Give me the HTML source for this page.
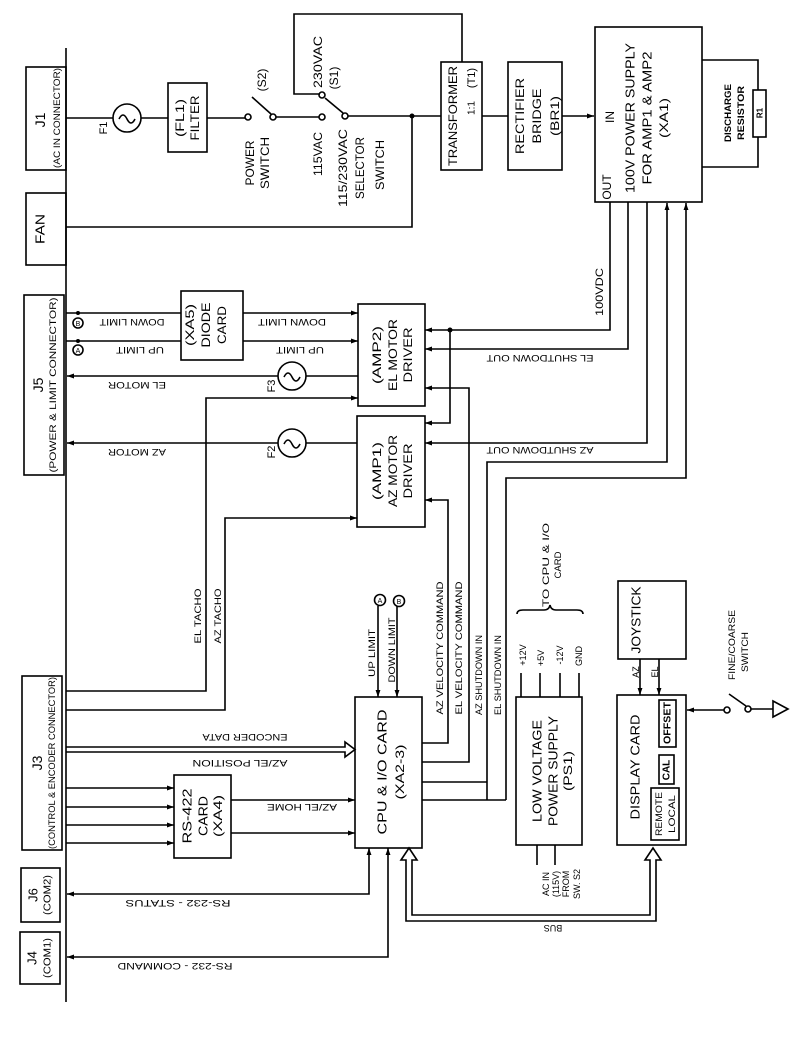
<!DOCTYPE html>
<html><head><meta charset="utf-8"><style>
html,body{margin:0;padding:0;background:#fff}
svg{display:block}
text{font-family:"Liberation Sans",sans-serif;fill:#000}
</style></head><body>
<svg width="799" height="1054" viewBox="0 0 799 1054" xmlns="http://www.w3.org/2000/svg">
<defs>
<marker id="a" viewBox="0 0 10 10" refX="10" refY="5" markerWidth="7" markerHeight="7" orient="auto-start-reverse" markerUnits="userSpaceOnUse"><path d="M0,1.5 L10,5 L0,8.5z" fill="#000"/></marker>
</defs>
<g stroke="#000" stroke-width="1.6" fill="none">
<!-- main bus -->
<line x1="66" y1="48" x2="66" y2="1002"/>
<!-- connector boxes -->
<rect x="26" y="67" width="40" height="103"/>
<rect x="26" y="193" width="40" height="72"/>
<rect x="24" y="295" width="40" height="180"/>
<rect x="22" y="676" width="40" height="174"/>
<rect x="21" y="868" width="39" height="54"/>
<rect x="20" y="932" width="40" height="52"/>
<!-- AC line -->
<line x1="66" y1="118" x2="113" y2="118"/>
<circle cx="127" cy="118" r="14"/>
<path d="M119,119 q4,-8 8,0 q4,8 8,0"/>
<line x1="141" y1="118" x2="168" y2="118"/>
<rect x="168" y="83" width="39" height="69"/>
<line x1="207" y1="118" x2="245" y2="118"/>
<circle cx="248" cy="117" r="3"/>
<circle cx="273" cy="117" r="3"/>
<line x1="271" y1="114" x2="252" y2="97"/>
<line x1="276" y1="117" x2="319" y2="117"/>
<circle cx="322" cy="117" r="3"/>
<circle cx="322" cy="95" r="3"/>
<circle cx="345" cy="116" r="3"/>
<line x1="343" y1="113" x2="325" y2="98"/>
<polyline points="320,94 294,94 294,14 462,14 462,62"/>
<line x1="348" y1="116" x2="441" y2="116"/>
<polyline points="412,116 412,227 66,227"/>
<rect x="441" y="62" width="41" height="108"/>
<line x1="482" y1="116" x2="508" y2="116"/>
<rect x="508" y="62" width="54" height="108"/>
<line x1="562" y1="116" x2="594" y2="116" marker-end="url(#a)"/>
<rect x="595" y="27" width="107" height="175"/>
<polyline points="702,60 758,60 758,90"/>
<rect x="753" y="90" width="13" height="47"/>
<polyline points="758,137 758,167 702,167"/>
<!-- PS outputs -->
<polyline points="610,202 610,330 425,330" marker-end="url(#a)"/>
<polyline points="450,330 450,423 425,423" marker-end="url(#a)"/>
<polyline points="628,202 628,349 425,349" marker-end="url(#a)"/>
<polyline points="647,202 647,443 425,443" marker-end="url(#a)"/>
<polyline points="487,800 487,462 667,462 667,203" marker-end="url(#a)"/>
<polyline points="506,800 506,478 686,478 686,203" marker-end="url(#a)"/>
<!-- amps -->
<rect x="358" y="304" width="67" height="102"/>
<rect x="357" y="416" width="68" height="111"/>
<!-- diode card -->
<rect x="181" y="291" width="62" height="69"/>
<line x1="66" y1="313" x2="181" y2="313"/>
<line x1="66" y1="341" x2="181" y2="341"/>
<line x1="243" y1="313" x2="358" y2="313" marker-end="url(#a)"/>
<line x1="243" y1="341" x2="358" y2="341" marker-end="url(#a)"/>
<circle cx="78" cy="323" r="5"/>
<circle cx="78" cy="350" r="5"/>
<!-- motors -->
<line x1="278" y1="376" x2="67" y2="376" marker-end="url(#a)"/>
<circle cx="292" cy="376" r="14"/>
<path d="M284,377 q4,-8 8,0 q4,8 8,0"/>
<line x1="306" y1="376" x2="358" y2="376"/>
<line x1="278" y1="443" x2="67" y2="443" marker-end="url(#a)"/>
<circle cx="292" cy="443" r="14"/>
<path d="M284,444 q4,-8 8,0 q4,8 8,0"/>
<line x1="306" y1="443" x2="357" y2="443"/>
<polyline points="66,691 206,691 206,398 358,398" marker-end="url(#a)"/>
<polyline points="66,710 225,710 225,518 357,518" marker-end="url(#a)"/>
<!-- CPU -->
<rect x="355" y="697" width="67" height="151"/>
<polyline points="422,743 448,743 448,500 425,500" marker-end="url(#a)"/>
<polyline points="422,762 469,762 469,388 425,388" marker-end="url(#a)"/>
<line x1="422" y1="782" x2="487" y2="782"/>
<line x1="422" y1="800" x2="506" y2="800"/>
<line x1="378" y1="606" x2="378" y2="697" marker-end="url(#a)"/>
<line x1="397" y1="606" x2="397" y2="697" marker-end="url(#a)"/>
<circle cx="380" cy="600" r="5.5"/>
<circle cx="399" cy="601" r="5.5"/>
<!-- encoder double arrow -->
<path d="M66,747 L345,747 L345,742 L355,749.5 L345,757 L345,752 L66,752"/>
<!-- RS422 -->
<rect x="174" y="775" width="57" height="83"/>
<line x1="66" y1="788" x2="174" y2="788" marker-end="url(#a)"/>
<line x1="66" y1="807" x2="174" y2="807" marker-end="url(#a)"/>
<line x1="66" y1="825" x2="174" y2="825" marker-end="url(#a)"/>
<line x1="66" y1="843" x2="174" y2="843" marker-end="url(#a)"/>
<line x1="231" y1="800" x2="355" y2="800" marker-end="url(#a)"/>
<line x1="231" y1="833" x2="355" y2="833" marker-end="url(#a)"/>
<polyline points="369,848 369,894 67,894" marker-start="url(#a)" marker-end="url(#a)"/>
<polyline points="388,848 388,957 67,957" marker-start="url(#a)" marker-end="url(#a)"/>
<!-- bus -->
<path d="M406,862 L406,921 L655,921 L655,862 L651,862 L653,848 L660,862 L659,862 L659,921 Z" fill="none" stroke="none"/>
<path d="M406,860 L401,860 L409,848 L417,860 L412,860 L412,915 L650,915 L650,860 L645,860 L653,848 L661,860 L656,860 L656,921 L406,921 Z"/>
<!-- LVPS -->
<rect x="516" y="697" width="66" height="148"/>
<line x1="521" y1="673" x2="521" y2="697"/>
<line x1="540" y1="673" x2="540" y2="697"/>
<line x1="560" y1="673" x2="560" y2="697"/>
<line x1="579" y1="673" x2="579" y2="697"/>
<path d="M517,614 q0,-4 6,-4 L544,610 q5,0 6,-5 q1,5 6,5 L577,610 q6,0 6,4"/>
<line x1="537" y1="845" x2="537" y2="865"/>
<line x1="555" y1="845" x2="555" y2="865"/>
<!-- joystick / display -->
<rect x="618" y="581" width="68" height="78"/>
<line x1="640" y1="659" x2="640" y2="695" marker-end="url(#a)"/>
<line x1="659" y1="659" x2="659" y2="695" marker-end="url(#a)"/>
<rect x="617" y="695" width="69" height="150"/>
<rect x="659" y="700" width="17" height="47"/>
<rect x="659" y="755" width="15" height="29"/>
<rect x="651" y="788" width="28" height="52"/>
<line x1="724" y1="710" x2="687" y2="710" marker-end="url(#a)"/>
<circle cx="727" cy="710" r="3"/>
<circle cx="748" cy="709" r="3"/>
<line x1="746" y1="706" x2="729" y2="694"/>
<line x1="751" y1="709" x2="773" y2="709"/>
<path d="M773,701 L788,709 L773,717 Z"/>
</g>
<!-- dots -->
<g fill="#000">
<circle cx="412" cy="116" r="2.5"/><circle cx="450" cy="330" r="2.5"/>
<circle cx="78" cy="313" r="2"/><circle cx="78" cy="341" r="2"/>
</g>
<g font-size="9">
<text x="78" y="326" text-anchor="middle" font-size="7">B</text>
<text x="78" y="353" text-anchor="middle" font-size="7">A</text>
<text x="380" y="603" text-anchor="middle" font-size="7">A</text>
<text x="399" y="604" text-anchor="middle" font-size="7">B</text>
</g>
<g dominant-baseline="central" text-anchor="middle" lengthAdjust="spacingAndGlyphs">
<!-- rotated -90 labels -->
<text transform="translate(40,120) rotate(-90)" font-size="14">J1</text>
<text transform="translate(57,118) rotate(-90)" font-size="9" textLength="100" lengthAdjust="spacingAndGlyphs">(AC IN CONNECTOR)</text>
<text transform="translate(104,128) rotate(-90)" font-size="11">F1</text>
<text transform="translate(180,118) rotate(-90)" font-size="12" textLength="38" lengthAdjust="spacingAndGlyphs">(FL1)</text>
<text transform="translate(195,118) rotate(-90)" font-size="12" textLength="45" lengthAdjust="spacingAndGlyphs">FILTER</text>
<text transform="translate(262,80) rotate(-90)" font-size="12">(S2)</text>
<text transform="translate(250,163) rotate(-90)" font-size="12" textLength="45" lengthAdjust="spacingAndGlyphs">POWER</text>
<text transform="translate(265,163) rotate(-90)" font-size="12" textLength="52" lengthAdjust="spacingAndGlyphs">SWITCH</text>
<text transform="translate(318,62) rotate(-90)" font-size="12" textLength="52" lengthAdjust="spacingAndGlyphs">230VAC</text>
<text transform="translate(334,78) rotate(-90)" font-size="12">(S1)</text>
<text transform="translate(318,154) rotate(-90)" font-size="12" textLength="44" lengthAdjust="spacingAndGlyphs">115VAC</text>
<text transform="translate(343,168) rotate(-90)" font-size="12" textLength="78" lengthAdjust="spacingAndGlyphs">115/230VAC</text>
<text transform="translate(360,168) rotate(-90)" font-size="12" textLength="62" lengthAdjust="spacingAndGlyphs">SELECTOR</text>
<text transform="translate(380,165) rotate(-90)" font-size="12" textLength="50" lengthAdjust="spacingAndGlyphs">SWITCH</text>
<text transform="translate(40,229) rotate(-90)" font-size="13" textLength="30" lengthAdjust="spacingAndGlyphs">FAN</text>
<text transform="translate(38,385) rotate(-90)" font-size="14">J5</text>
<text transform="translate(53,385) rotate(-90)" font-size="9" textLength="175" lengthAdjust="spacingAndGlyphs">(POWER &amp; LIMIT CONNECTOR)</text>
<text transform="translate(190,325) rotate(-90)" font-size="12" textLength="42" lengthAdjust="spacingAndGlyphs">(XA5)</text>
<text transform="translate(206,325) rotate(-90)" font-size="12" textLength="45" lengthAdjust="spacingAndGlyphs">DIODE</text>
<text transform="translate(222,325) rotate(-90)" font-size="12" textLength="38" lengthAdjust="spacingAndGlyphs">CARD</text>
<text transform="translate(272,386) rotate(-90)" font-size="11">F3</text>
<text transform="translate(272,452) rotate(-90)" font-size="11">F2</text>
<text transform="translate(377,355) rotate(-90)" font-size="12" textLength="58" lengthAdjust="spacingAndGlyphs">(AMP2)</text>
<text transform="translate(393,355) rotate(-90)" font-size="12" textLength="72" lengthAdjust="spacingAndGlyphs">EL MOTOR</text>
<text transform="translate(408,355) rotate(-90)" font-size="12" textLength="55" lengthAdjust="spacingAndGlyphs">DRIVER</text>
<text transform="translate(377,471) rotate(-90)" font-size="12" textLength="58" lengthAdjust="spacingAndGlyphs">(AMP1)</text>
<text transform="translate(393,471) rotate(-90)" font-size="12" textLength="72" lengthAdjust="spacingAndGlyphs">AZ MOTOR</text>
<text transform="translate(408,471) rotate(-90)" font-size="12" textLength="55" lengthAdjust="spacingAndGlyphs">DRIVER</text>
<text transform="translate(453,116) rotate(-90)" font-size="12" textLength="100" lengthAdjust="spacingAndGlyphs">TRANSFORMER</text>
<text transform="translate(472,108) rotate(-90)" font-size="10">1:1</text>
<text transform="translate(472,78) rotate(-90)" font-size="11">(T1)</text>
<text transform="translate(520,116) rotate(-90)" font-size="12" textLength="76" lengthAdjust="spacingAndGlyphs">RECTIFIER</text>
<text transform="translate(537,116) rotate(-90)" font-size="12" textLength="55" lengthAdjust="spacingAndGlyphs">BRIDGE</text>
<text transform="translate(555,116) rotate(-90)" font-size="12" textLength="40" lengthAdjust="spacingAndGlyphs">(BR1)</text>
<text transform="translate(610,117) rotate(-90)" font-size="12">IN</text>
<text transform="translate(607,187) rotate(-90)" font-size="12">OUT</text>
<text transform="translate(630,118) rotate(-90)" font-size="13" textLength="150" lengthAdjust="spacingAndGlyphs">100V POWER SUPPLY</text>
<text transform="translate(647,118) rotate(-90)" font-size="13" textLength="133" lengthAdjust="spacingAndGlyphs">FOR AMP1 &amp; AMP2</text>
<text transform="translate(664,118) rotate(-90)" font-size="12" textLength="40" lengthAdjust="spacingAndGlyphs">(XA1)</text>
<text transform="translate(728,113) rotate(-90)" font-size="9" font-weight="bold" textLength="58" lengthAdjust="spacingAndGlyphs">DISCHARGE</text>
<text transform="translate(741,113) rotate(-90)" font-size="9" font-weight="bold" textLength="54" lengthAdjust="spacingAndGlyphs">RESISTOR</text>
<text transform="translate(760,113) rotate(-90)" font-size="8" font-weight="bold">R1</text>
<text transform="translate(600,292) rotate(-90)" font-size="11" textLength="48" lengthAdjust="spacingAndGlyphs">100VDC</text>
<text transform="translate(198,616) rotate(-90)" font-size="9" textLength="55" lengthAdjust="spacingAndGlyphs">EL TACHO</text>
<text transform="translate(218,616) rotate(-90)" font-size="9" textLength="55" lengthAdjust="spacingAndGlyphs">AZ TACHO</text>
<text transform="translate(187,816) rotate(-90)" font-size="13" textLength="55" lengthAdjust="spacingAndGlyphs">RS-422</text>
<text transform="translate(203,816) rotate(-90)" font-size="13" textLength="40" lengthAdjust="spacingAndGlyphs">CARD</text>
<text transform="translate(218,816) rotate(-90)" font-size="12" textLength="42" lengthAdjust="spacingAndGlyphs">(XA4)</text>
<text transform="translate(37,763) rotate(-90)" font-size="14">J3</text>
<text transform="translate(52,763) rotate(-90)" font-size="9" textLength="172" lengthAdjust="spacingAndGlyphs">(CONTROL &amp; ENCODER CONNECTOR)</text>
<text transform="translate(33,895) rotate(-90)" font-size="13">J6</text>
<text transform="translate(48,895) rotate(-90)" font-size="10" textLength="40" lengthAdjust="spacingAndGlyphs">(COM2)</text>
<text transform="translate(32,958) rotate(-90)" font-size="13">J4</text>
<text transform="translate(48,958) rotate(-90)" font-size="10" textLength="40" lengthAdjust="spacingAndGlyphs">(COM1)</text>
<text transform="translate(372,653) rotate(-90)" font-size="9" textLength="48" lengthAdjust="spacingAndGlyphs">UP LIMIT</text>
<text transform="translate(392,650) rotate(-90)" font-size="9" textLength="65" lengthAdjust="spacingAndGlyphs">DOWN LIMIT</text>
<text transform="translate(382,772) rotate(-90)" font-size="13" textLength="125" lengthAdjust="spacingAndGlyphs">CPU &amp; I/O CARD</text>
<text transform="translate(400,772) rotate(-90)" font-size="12" textLength="55" lengthAdjust="spacingAndGlyphs">(XA2-3)</text>
<text transform="translate(440,648) rotate(-90)" font-size="9" textLength="133" lengthAdjust="spacingAndGlyphs">AZ VELOCITY COMMAND</text>
<text transform="translate(459,648) rotate(-90)" font-size="9" textLength="133" lengthAdjust="spacingAndGlyphs">EL VELOCITY COMMAND</text>
<text transform="translate(479,675) rotate(-90)" font-size="9" textLength="80" lengthAdjust="spacingAndGlyphs">AZ SHUTDOWN IN</text>
<text transform="translate(498,675) rotate(-90)" font-size="9" textLength="80" lengthAdjust="spacingAndGlyphs">EL SHUTDOWN IN</text>
<text transform="translate(546,565) rotate(-90)" font-size="9" textLength="84" lengthAdjust="spacingAndGlyphs">TO CPU &amp; I/O</text>
<text transform="translate(558,565) rotate(-90)" font-size="9" textLength="27" lengthAdjust="spacingAndGlyphs">CARD</text>
<text transform="translate(523,655) rotate(-90)" font-size="9">+12V</text>
<text transform="translate(541,658) rotate(-90)" font-size="9">+5V</text>
<text transform="translate(560,655) rotate(-90)" font-size="9">-12V</text>
<text transform="translate(579,656) rotate(-90)" font-size="9">GND</text>
<text transform="translate(537,771) rotate(-90)" font-size="13" textLength="102" lengthAdjust="spacingAndGlyphs">LOW VOLTAGE</text>
<text transform="translate(553,771) rotate(-90)" font-size="13" textLength="110" lengthAdjust="spacingAndGlyphs">POWER SUPPLY</text>
<text transform="translate(568,771) rotate(-90)" font-size="12" textLength="40" lengthAdjust="spacingAndGlyphs">(PS1)</text>
<text transform="translate(546,884) rotate(-90)" font-size="9">AC IN</text>
<text transform="translate(556,884) rotate(-90)" font-size="9">(115V)</text>
<text transform="translate(566,884) rotate(-90)" font-size="9">FROM</text>
<text transform="translate(577,884) rotate(-90)" font-size="9">SW. S2</text>
<text transform="translate(636,620) rotate(-90)" font-size="13" textLength="67" lengthAdjust="spacingAndGlyphs">JOYSTICK</text>
<text transform="translate(636,672) rotate(-90)" font-size="9">AZ</text>
<text transform="translate(655,672) rotate(-90)" font-size="9">EL</text>
<text transform="translate(635,767) rotate(-90)" font-size="13" textLength="105" lengthAdjust="spacingAndGlyphs">DISPLAY CARD</text>
<text transform="translate(668,723) rotate(-90)" font-size="10" font-weight="bold" textLength="42" lengthAdjust="spacingAndGlyphs">OFFSET</text>
<text transform="translate(667,770) rotate(-90)" font-size="10" font-weight="bold">CAL</text>
<text transform="translate(659,814) rotate(-90)" font-size="9" textLength="44" lengthAdjust="spacingAndGlyphs">REMOTE</text>
<text transform="translate(672,814) rotate(-90)" font-size="9" textLength="38" lengthAdjust="spacingAndGlyphs">LOCAL</text>
<text transform="translate(732,645) rotate(-90)" font-size="9" textLength="70" lengthAdjust="spacingAndGlyphs">FINE/COARSE</text>
<text transform="translate(745,652) rotate(-90)" font-size="9" textLength="40" lengthAdjust="spacingAndGlyphs">SWITCH</text>
<!-- upside-down labels -->
<text transform="translate(132,322) rotate(180)" font-size="9" textLength="65" lengthAdjust="spacingAndGlyphs">DOWN LIMIT</text>
<text transform="translate(292,322) rotate(180)" font-size="9" textLength="68" lengthAdjust="spacingAndGlyphs">DOWN LIMIT</text>
<text transform="translate(140,350) rotate(180)" font-size="9" textLength="48" lengthAdjust="spacingAndGlyphs">UP LIMIT</text>
<text transform="translate(300,350) rotate(180)" font-size="9" textLength="48" lengthAdjust="spacingAndGlyphs">UP LIMIT</text>
<text transform="translate(137,385) rotate(180)" font-size="9" textLength="58" lengthAdjust="spacingAndGlyphs">EL MOTOR</text>
<text transform="translate(137,452) rotate(180)" font-size="9" textLength="58" lengthAdjust="spacingAndGlyphs">AZ MOTOR</text>
<text transform="translate(540,358) rotate(180)" font-size="9" textLength="107" lengthAdjust="spacingAndGlyphs">EL SHUTDOWN OUT</text>
<text transform="translate(540,450) rotate(180)" font-size="9" textLength="107" lengthAdjust="spacingAndGlyphs">AZ SHUTDOWN OUT</text>
<text transform="translate(245,737) rotate(180)" font-size="9" textLength="85" lengthAdjust="spacingAndGlyphs">ENCODER DATA</text>
<text transform="translate(240,763) rotate(180)" font-size="9" textLength="95" lengthAdjust="spacingAndGlyphs">AZ/EL POSITION</text>
<text transform="translate(302,807) rotate(180)" font-size="9" textLength="70" lengthAdjust="spacingAndGlyphs">AZ/EL HOME</text>
<text transform="translate(178,903) rotate(180)" font-size="9" textLength="105" lengthAdjust="spacingAndGlyphs">RS-232 - STATUS</text>
<text transform="translate(175,966) rotate(180)" font-size="9" textLength="115" lengthAdjust="spacingAndGlyphs">RS-232 - COMMAND</text>
<text transform="translate(553,928) rotate(180)" font-size="9">BUS</text>
</g>
</svg>
</body></html>
